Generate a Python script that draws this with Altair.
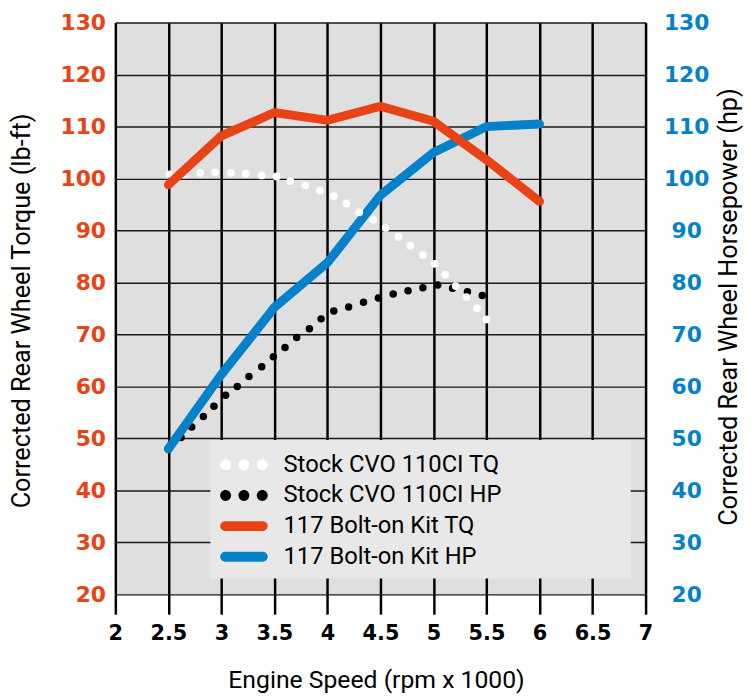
import altair as alt
import pandas as pd

# ---- data ----
# 117 Bolt-on Kit (solid lines)
rpm_kit = [2.5, 3.0, 3.5, 4.0, 4.5, 5.0, 5.5, 6.0]
kit_tq = [98.8, 108.2, 112.7, 111.2, 113.9, 111.0, 103.6, 95.6]
kit_hp = [48.0, 62.3, 75.2, 83.8, 96.8, 105.0, 110.0, 110.5]

# Stock CVO 110CI TQ (white dotted curve, one reading per dot)
rpm_stock_tq = [2.51, 2.65, 2.80, 2.94, 3.09, 3.23, 3.38, 3.52, 3.65, 3.79, 3.93,
                4.06, 4.18, 4.30, 4.43, 4.55, 4.67, 4.78, 4.90, 5.01, 5.11, 5.21,
                5.31, 5.41, 5.50]
stock_tq = [100.8, 100.8, 101.1, 101.2, 101.1, 100.9, 100.6, 100.4, 99.5, 98.7, 97.7,
            96.6, 95.2, 93.5, 92.1, 90.5, 88.8, 87.1, 85.3, 83.6, 81.5, 79.3,
            77.2, 75.0, 72.9]

# Stock CVO 110CI HP (black dotted curve, one reading per dot)
rpm_stock_hp = [2.50, 2.62, 2.72, 2.83, 2.93, 3.04, 3.15, 3.26, 3.38, 3.49, 3.60, 3.71,
                3.83, 3.94, 4.06, 4.20, 4.34, 4.48, 4.62, 4.76, 4.90, 5.04, 5.18,
                5.32, 5.46]
stock_hp = [47.9, 50.2, 52.2, 54.2, 56.2, 58.3, 60.0, 61.9, 63.8, 65.7, 67.5, 69.4,
            71.1, 73.0, 74.5, 75.3, 76.2, 77.0, 77.8, 78.4, 79.0, 79.5, 78.9,
            78.2, 77.5]

series_names = ["Stock CVO 110CI TQ", "Stock CVO 110CI HP",
                "117 Bolt-on Kit TQ", "117 Bolt-on Kit HP"]
ORANGE = "#E84315"
BLUE = "#0481C9"
WHITE = "#ffffff"
PLOT_BG = "#dfdfdf"
series_colors = [WHITE, "#000000", ORANGE, BLUE]

x_ticks = [2, 2.5, 3, 3.5, 4, 4.5, 5, 5.5, 6, 6.5, 7]
y_ticks = [20, 30, 40, 50, 60, 70, 80, 90, 100, 110, 120, 130]

# legend symbols (custom SVG paths)
DOTS = ("M-1,0 a0.367,0.367 0 1,0 0.734,0 a0.367,0.367 0 1,0 -0.734,0 Z "
        "M0.233,0 a0.367,0.367 0 1,0 0.734,0 a0.367,0.367 0 1,0 -0.734,0 Z "
        "M1.466,0 a0.367,0.367 0 1,0 0.734,0 a0.367,0.367 0 1,0 -0.734,0 Z")
BAR = ("M-0.667,-0.333 L1.867,-0.333 A0.333,0.333 0 0 1 1.867,0.333 "
       "L-0.667,0.333 A0.333,0.333 0 0 1 -0.667,-0.333 Z")
series_shapes = [DOTS, DOTS, BAR, BAR]

stock_tq_df = pd.DataFrame({"rpm": rpm_stock_tq, "tq": stock_tq})
stock_hp_df = pd.DataFrame({"rpm": rpm_stock_hp, "hp": stock_hp})
kit_df = pd.DataFrame({"rpm": rpm_kit, "tq": kit_tq, "hp": kit_hp})
legend_df = pd.DataFrame({"series": series_names})

REG = "Roboto"
BOLD = "DejaVu Sans"

x_enc = alt.X(
    "rpm:Q",
    scale=alt.Scale(domain=[2, 7], nice=False, zero=False),
    axis=alt.Axis(
        values=x_ticks, format="~g", grid=True, gridColor="black", gridWidth=2.5,
        gridOpacity=1, domain=False, ticks=True, tickSize=20, tickWidth=2.5,
        tickColor="black", labelFont=BOLD, labelFontWeight="bold", labelFontSize=21,
        labelColor="black", labelPadding=9, labelFlush=False, labelOverlap=False,
        title="Engine Speed (rpm x 1000)", titleFont=REG, titleFontSize=25,
        titleFontWeight="normal", titleColor="black", titleX=263.5, titleY=94,
        titleBaseline="alphabetic",
    ),
)

y_scale = alt.Scale(domain=[20, 130], nice=False, zero=False)

left_axis = alt.Axis(
    orient="left", values=y_ticks, grid=True, gridColor="#1a1a1a", gridWidth=1.5,
    gridOpacity=1, domain=False, ticks=False, labelFont=BOLD, labelFontWeight="bold",
    labelFontSize=22, labelColor=ORANGE, labelPadding=10, labelFlush=False,
    title="Corrected Rear Wheel Torque (lb-ft)", titleFont=REG, titleFontSize=25.5,
    titleFontWeight="normal", titleColor="black", titleAngle=270,
    titleBaseline="alphabetic", titleX=-86.5, titleY=291, titleAlign="center",
)
right_axis = alt.Axis(
    orient="right", values=y_ticks, grid=False, domain=False, ticks=False,
    labelFont=BOLD, labelFontWeight="bold", labelFontSize=22, labelColor=BLUE,
    labelPadding=41, labelAlign="center", labelFlush=False,
    title="Corrected Rear Wheel Horsepower (hp)", titleFont=REG, titleFontSize=25.5,
    titleFontWeight="normal", titleColor="black", titleAngle=270,
    titleBaseline="alphabetic", titleX=92, titleY=287, titleAlign="center",
)

black_dots = alt.Chart(stock_hp_df).mark_circle(
    fill="black", size=57, opacity=1
).encode(x=x_enc, y=alt.Y("hp:Q", scale=y_scale, axis=right_axis))

blue_line = alt.Chart(kit_df).mark_line(
    stroke=BLUE, strokeWidth=9, strokeCap="round"
).encode(x=x_enc, y=alt.Y("hp:Q", scale=y_scale, axis=right_axis))

white_dots = alt.Chart(stock_tq_df).mark_circle(
    fill=WHITE, size=62, opacity=1
).encode(x=x_enc, y=alt.Y("tq:Q", scale=y_scale, axis=left_axis))

orange_line = alt.Chart(kit_df).mark_line(
    stroke=ORANGE, strokeWidth=9, strokeCap="round"
).encode(x=x_enc, y=alt.Y("tq:Q", scale=y_scale, axis=left_axis))

legend = alt.Legend(
    title=" ", titleOrient="right", titlePadding=121, titleFontSize=2,
    orient="none", legendX=96, legendY=422, direction="vertical",
    fillColor="#e8e8e8", padding=10, rowPadding=4, symbolSize=900,
    symbolStrokeWidth=0, symbolOpacity=1, labelFont=REG, labelFontSize=24,
    labelColor="black", labelOffset=34, labelLimit=800,
)

legend_layer = alt.Chart(legend_df).transform_filter("false").mark_point(
    filled=True, opacity=1, size=900
).encode(
    color=alt.Color("series:N", scale=alt.Scale(domain=series_names, range=series_colors),
                    legend=legend),
    shape=alt.Shape("series:N", scale=alt.Scale(domain=series_names, range=series_shapes),
                    legend=legend),
)

hp_group = alt.layer(black_dots, blue_line)
tq_group = alt.layer(white_dots, orange_line)

chart = alt.layer(hp_group, tq_group, legend_layer).resolve_scale(
    y="independent"
).properties(
    width=536, height=578,
    autosize=alt.AutoSizeParams(type="none"),
    padding={"left": 108.5, "top": 11, "right": 101.5, "bottom": 100},
    view=alt.ViewBackground(fill=PLOT_BG, strokeWidth=0),
).configure(background="white").configure_view(fill=PLOT_BG, strokeWidth=0)

chart.save("out.html", embed_options={"renderer": "svg", "actions": False})
